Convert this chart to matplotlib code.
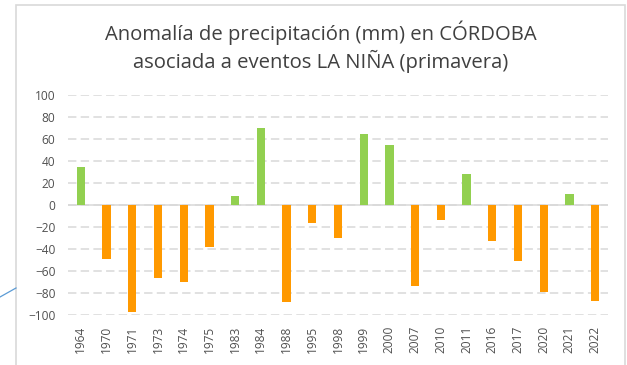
import matplotlib
matplotlib.use("Agg")
import matplotlib.pyplot as plt
from matplotlib.patches import Rectangle
from matplotlib.lines import Line2D

# spring precipitation anomaly (mm) in Córdoba during La Niña years
years = ["1964", "1970", "1971", "1973", "1974", "1975", "1983", "1984", "1988",
         "1995", "1998", "1999", "2000", "2007", "2010", "2011", "2016", "2017",
         "2020", "2021", "2022"]
anomaly = [35, -49, -97, -66, -70, -38, 8, 70, -88.5, -16, -30, 65, 55, -74,
           -14, 28, -33, -51, -79.5, 10, -87]

GREEN = "#92d050"
ORANGE = "#ff9900"
GRID = "#d9d9d9"
TEXT = "#505050"
TITLE = "#404040"

plt.rcParams["font.family"] = ["Open Sans", "DejaVu Sans"]

W, H = 627, 365
fig = plt.figure(figsize=(W / 100, H / 100), dpi=100)
fig.patch.set_facecolor("white")

# chart frame (bottom edge runs off the canvas)
fig.patches.append(Rectangle((16 / W, -0.1), (625 - 16) / W, 1.1 - 5 / H,
                             transform=fig.transFigure, fill=False,
                             edgecolor=GRID, lw=1.2))
# connector line coming in from the left
fig.lines.append(Line2D([0, 16 / W], [1 - 297 / H, 1 - 288 / H],
                        transform=fig.transFigure, color="#5b9bd5", lw=0.9))

ax = fig.add_axes([68 / W, 1 - 315 / H, (608 - 68) / W, (315 - 95) / H])
x = range(len(years))
colors = [GREEN if v >= 0 else ORANGE for v in anomaly]
ax.bar(x, anomaly, width=0.32, color=colors, zorder=3)

ax.set_ylim(-100, 100)
ax.set_yticks(range(-100, 101, 20))
ax.set_xlim(-0.5, len(years) - 0.5)
ax.set_xticks(list(x))
ax.set_xticklabels(years, rotation=90)
ax.tick_params(length=0, labelsize=8.6, labelcolor=TEXT)
ax.tick_params(axis="y", pad=9)
ax.tick_params(axis="x", pad=8)

ax.yaxis.grid(True, color=GRID, lw=1.1, linestyle=(0, (5.5, 2.8)), zorder=0)
ax.axhline(0, color=GRID, lw=1.1, zorder=2)
for s in ax.spines.values():
    s.set_visible(False)

fig.text(321 / W, 1 - 33 / H, "Anomalía de precipitación (mm) en CÓRDOBA",
         ha="center", va="center", fontsize=14.6, color=TITLE)
fig.text(321 / W, 1 - 61 / H, "asociada a eventos LA NIÑA (primavera)",
         ha="center", va="center", fontsize=14.6, color=TITLE)

fig.savefig("out.png", dpi=100)
